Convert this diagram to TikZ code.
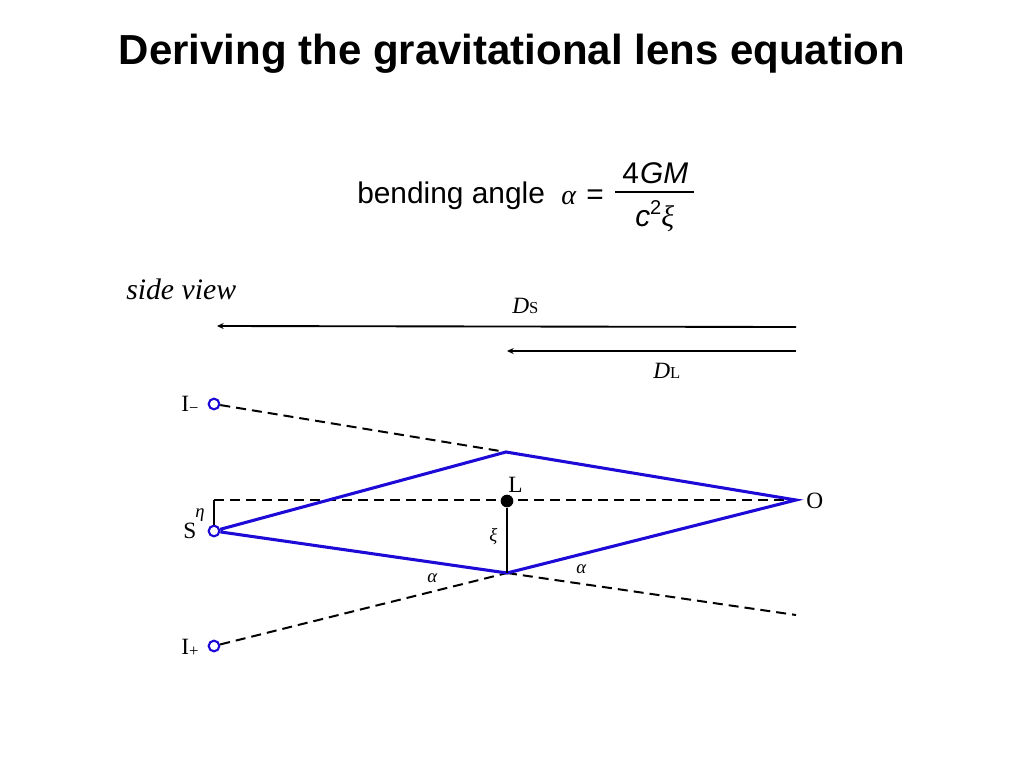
\documentclass[tikz,border=0pt]{standalone}
\usepackage{fontspec}
\setmainfont{Liberation Serif}
\newfontfamily\helv{Liberation Sans}
\usetikzlibrary{arrows.meta}
\definecolor{rayblue}{RGB}{30,10,215}
\tikzset{
	ray/.style={draw=rayblue, line width=2.3pt},
	dashray/.style={draw=black, line width=1.5pt, dash pattern=on 7.5pt off 4.5pt},
	dist/.style={draw=black, line width=1.4pt, -{Stealth[length=5pt,width=4.5pt]}},
	lbl/.style={inner sep=0pt, font=\fontsize{17.5}{20}\selectfont},
	small/.style={inner sep=0pt, font=\fontsize{14}{16}\itshape\selectfont},
	sans/.style={inner sep=0pt, font=\helv\fontsize{22.4}{26}\selectfont}
}
\newcommand{\imagept}[2] % {name}{x,y}
{
	\node [circle, draw=rayblue, fill=white, line width=1.6pt, minimum size=8pt, inner sep=0pt] (#1) at (#2) {};
}
\begin{document}
\begin{tikzpicture}[x=0.75pt,y=-0.75pt]
	\useasboundingbox (0,0) rectangle (1024,768);

	\node [inner sep=0pt, anchor=base, font=\helv\bfseries\fontsize{31.5}{36}\selectfont] (title) at (512,64) {Deriving the gravitational lens equation};

	% bending angle
	\node [sans, anchor=base west] (bending) at (357,203) {bending angle};
	\node [inner sep=0pt, anchor=base west, font=\fontsize{21}{24}\itshape\selectfont] (alphaeq) at (561,204) {α};
	\node [sans, anchor=base west] (equals) at (586,204) {=};
	\coordinate (fracL) at (615,192);
	\coordinate (fracR) at (694,192);
	\draw [line width=2pt] (fracL) -- (fracR);
	\node [sans, anchor=base west] (numer) at (622,183) {4\hspace{1pt}\textit{GM}};
	\node [sans, anchor=base west] (denom) at (635,226) {\textit{c}\raisebox{0.38em}{\fontsize{15}{18}\selectfont 2}{\rmfamily\itshape ξ}};

	\node [inner sep=0pt, anchor=base west, font=\fontsize{22.3}{26}\itshape\selectfont] (sideview) at (126,299) {side view};

	% distances
	\coordinate (obsS) at (796,327);
	\coordinate (endS) at (217,326);
	\coordinate (obsL) at (796,351);
	\coordinate (endL) at (507,351);
	\draw [dist] (obsS) -- (endS);
	\draw [dist] (obsL) -- (endL);
	\node [lbl, anchor=base west] (DS) at (512,313) {\textit{D}\fontsize{12.5}{14}\selectfont S};
	\node [lbl, anchor=base west] (DL) at (653,378) {\textit{D}\fontsize{12.5}{14}\selectfont L};

	% geometry
	\coordinate (O) at (796,500);
	\coordinate (top) at (506,452);
	\coordinate (bot) at (507,573);
	\coordinate (axis) at (214,500);
	\coordinate (far) at (796,615);

	\imagept{Im}{214,404}
	\imagept{Ip}{214,646}
	\imagept{S}{214,531}

	\draw [dashray] (Im) -- (top);
	\draw [dashray] (Ip) -- (bot);
	\draw [dashray] (bot) -- (far);
	\draw [dashray] (axis) -- (O);
	\draw [line width=1.5pt] (axis) -- (S);
	\draw [ray, line join=miter] (S) -- (top) -- (O) -- (bot) -- (S);

	\node [circle, fill=black, minimum size=9.5pt, inner sep=0pt] (L) at (507,501) {};
	\draw [line width=1.5pt] (L) -- (bot);

	% labels
	\node [lbl, anchor=base west] (Imlabel) at (181,411) {I\raisebox{-0.1em}{\fontsize{12.5}{14}\selectfont −}};
	\node [lbl, anchor=base west] (Iplabel) at (181,654) {I\raisebox{-0.1em}{\fontsize{12.5}{14}\selectfont +}};
	\node [lbl, anchor=base west] (Slabel) at (183,538) {S};
	\node [lbl, anchor=base west] (Llabel) at (508,492) {L};
	\node [lbl, anchor=base west] (Olabel) at (806,508) {O};
	\node [small, anchor=base west] (eta) at (195,517) {η};
	\node [small, anchor=base west] (xi) at (489,541) {ξ};
	\node [small, anchor=base west] (alphaL) at (427,582) {α};
	\node [small, anchor=base west] (alphaR) at (576,573) {α};
\end{tikzpicture}
\end{document}
